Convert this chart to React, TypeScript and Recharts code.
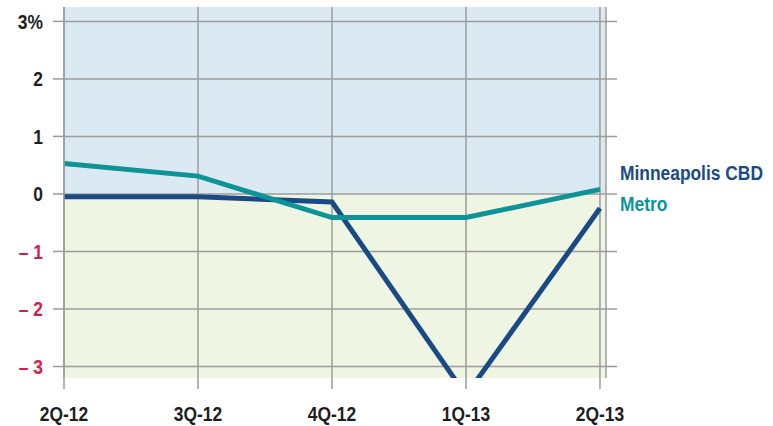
import React from 'react';
import {
  LineChart, Line, XAxis, YAxis, CartesianGrid, ReferenceArea, ReferenceLine,
} from 'recharts';

const quarters = ['2Q-12', '3Q-12', '4Q-12', '1Q-13', '2Q-13'];
const minneapolisCbd = [-0.05, -0.05, -0.14, -3.5, -0.25];
const metro = [0.53, 0.31, -0.41, -0.41, 0.08];
const yTicks = [-3, -2, -1, 0, 1, 2, 3];

const data = quarters.map((q, i) => ({
  i,
  quarter: q,
  cbd: minneapolisCbd[i],
  metro: metro[i],
}));

const FONT = '"Liberation Sans", Arial, sans-serif';
const SQUEEZE = 0.87;
const GRID = '#9c9c9c';
const CBD_COLOR = '#1a4a85';
const METRO_COLOR = '#0e9398';
const NEG_COLOR = '#d31d4b';

// condensed bold text: regular bold face squeezed horizontally
const Narrow = ({ x, y, anchor, size, color, dy, children }: any) => (
  <g transform={`translate(${x},${y}) scale(${SQUEEZE},1)`}>
    <text x={0} y={0} dy={dy} textAnchor={anchor} fontFamily={FONT} fontWeight="bold"
      fontSize={size} fill={color}>
      {children}
    </text>
  </g>
);

const YTick = (props: any) => {
  const { x, y, payload } = props;
  const v = payload.value as number;
  const neg = v < 0;
  const text = v === 3 ? '3%' : neg ? `\u2013 ${Math.abs(v)}` : String(v);
  return (
    <Narrow x={x} y={y} dy="0.36em" anchor="end" size={20} color={neg ? NEG_COLOR : '#1e1e1e'}>
      {text}
    </Narrow>
  );
};

const XTick = (props: any) => {
  const { x, y, payload } = props;
  return (
    <Narrow x={x} y={y} dy="0.71em" anchor="middle" size={20} color="#1e1e1e">
      {quarters[payload.value]}
    </Narrow>
  );
};

const endLabel = (name: string, color: string, dy: number) => (props: any) => {
  const { x, y, index } = props;
  if (index !== quarters.length - 1) return null;
  return (
    <Narrow x={x + 20} y={y + dy} dy="0.36em" anchor="start" size={20} color={color}>
      {name}
    </Narrow>
  );
};

export default function App() {
  return (
    <div style={{ position: 'absolute', left: 0, top: 0, width: 773, height: 426, background: '#fff' }}>
      <LineChart width={773} height={426} data={data}
        margin={{ top: 7, right: 167, left: 0, bottom: 0 }}>
        <ReferenceArea x1={0} x2={4.045} y1={0} y2={3.25} fill="#dbe9f3" fillOpacity={1} stroke="none" />
        <ReferenceArea x1={0} x2={4.045} y1={-3.2} y2={0} fill="#eef5e2" fillOpacity={1} stroke="none" />
        <CartesianGrid horizontal={false} stroke={GRID} strokeWidth={1.5} zIndex={150} />
        {yTicks.map((t) => (
          <ReferenceLine key={t} segment={[{ x: 0, y: t }, { x: 4.127, y: t }]}
            stroke={GRID} strokeWidth={1.5} ifOverflow="visible" />
        ))}
        <XAxis dataKey="i" type="number" domain={[0, 4.045]} allowDataOverflow
          ticks={[0, 1, 2, 3, 4]}
          axisLine={false} tickSize={11} tickMargin={18} height={48}
          tickLine={{ stroke: GRID, strokeWidth: 1.5 }} tick={<XTick />} />
        <YAxis domain={[-3.2, 3.25]} allowDataOverflow ticks={yTicks} width={64}
          axisLine={{ stroke: GRID, strokeWidth: 1.5 }} tickSize={11} tickMargin={10}
          tickLine={{ stroke: GRID, strokeWidth: 1.5 }} tick={<YTick />} />
        <Line dataKey="cbd" stroke={CBD_COLOR} strokeWidth={5} dot={false}
          isAnimationActive={false} label={endLabel('Minneapolis CBD', CBD_COLOR, -36)} />
        <Line dataKey="metro" stroke={METRO_COLOR} strokeWidth={5} dot={false}
          isAnimationActive={false} label={endLabel('Metro', METRO_COLOR, 14)} />
      </LineChart>
    </div>
  );
}
